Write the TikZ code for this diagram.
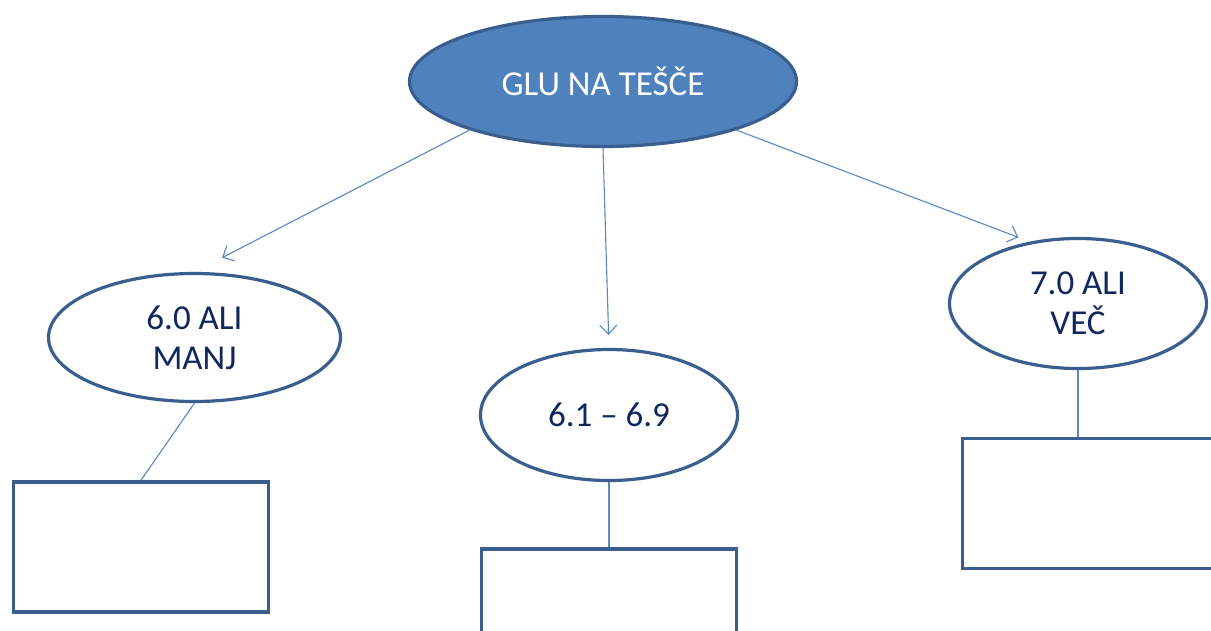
\documentclass[tikz,border=0pt]{standalone}
\usepackage{fontspec}
\setmainfont{Carlito}
\usetikzlibrary{shapes.geometric,arrows.meta,calc}
\definecolor{fillblue}{HTML}{4F81BD}
\definecolor{edgeblue}{HTML}{3A5F8E}
\definecolor{linkblue}{HTML}{5B87C2}
\definecolor{navytext}{HTML}{10275E}
\tikzset{
  topoval/.style={ellipse, draw=edgeblue, fill=fillblue, line width=3.2pt, inner sep=0pt,
    minimum width=387pt, minimum height=130pt, text=white, font=\fontsize{35}{42}\selectfont},
  valoval/.style={ellipse, draw=edgeblue, fill=white, line width=3.2pt, inner sep=0pt,
    text=navytext, align=center, font=\fontsize{35}{40}\selectfont},
  emptybox/.style={rectangle, draw=edgeblue, line width=3.5pt, inner sep=0pt,
    minimum width=255pt, minimum height=130pt},
  arrowlink/.style={draw=linkblue, line width=1.1pt, -{Straight Barb[length=9pt,width=17pt,line width=1.1pt]}},
  plainlink/.style={draw=linkblue, line width=1.1pt}
}
\begin{document}
\begin{tikzpicture}[x=1pt,y=-1pt]
\useasboundingbox (0,0) rectangle (1211,630);
\clip (0,0) rectangle (1211,630);
\fill[white] (0,0) rectangle (1211,630);

\node[topoval] (top) at (603,81.5) {GLU NA TEŠČE};
\node[valoval, minimum width=292pt, minimum height=128pt] (left) at (194.5,337.5) {6.0 ALI\\MANJ};
\node[valoval, minimum width=257pt, minimum height=131pt] (mid) at (609,415) {6.1 – 6.9};
\node[valoval, minimum width=257pt, minimum height=130pt] (right) at (1078,303.5) {7.0 ALI\\VEČ};

\node[emptybox] (lrect) at (141,547) {};
\node[emptybox] (mrect) at (609,614) {};
\node[emptybox] (rrect) at (1090,503.5) {};

\draw[arrowlink, shorten >=31pt] (top.200) -- (left.north);
\draw[arrowlink, shorten >=13pt] (top.south) -- (mid.north);
\draw[arrowlink, shorten >=12pt] (top.340) -- (right.128);

\draw[plainlink] (left.south) -- (lrect.north);
\draw[plainlink] (mid.south) -- (mrect.north);
\draw[plainlink] (right.south) -- (right.south |- rrect.north);
\end{tikzpicture}
\end{document}
